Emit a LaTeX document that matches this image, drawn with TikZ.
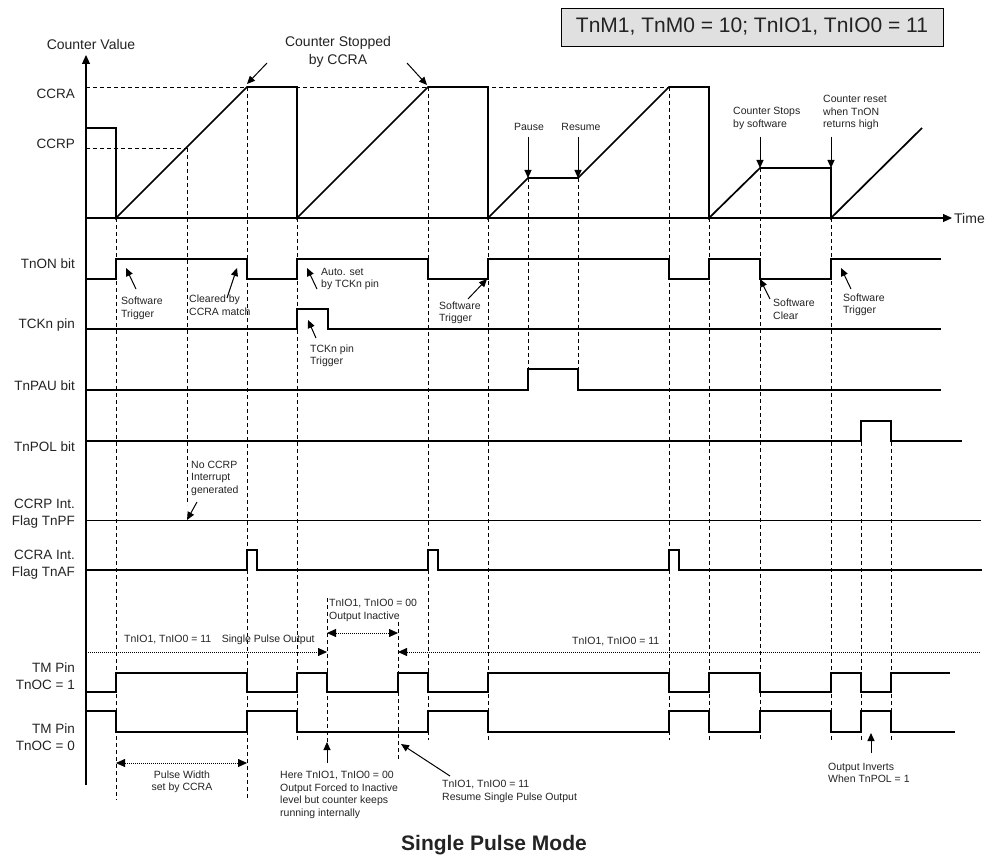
\documentclass[tikz,border=0pt]{standalone}
\usepackage{fontspec}
\setmainfont{Liberation Sans}
\usetikzlibrary{arrows.meta}
\definecolor{boxgray}{RGB}{224,224,224}
\definecolor{ink}{RGB}{35,35,35}

\begin{document}
\begin{tikzpicture}[x=1pt, y=-1pt, >={Triangle[length=9pt,width=8pt]},
  lbl/.style={anchor=east, align=right, inner sep=0pt, text=ink, font=\fontsize{13.5}{17}\selectfont},
  note/.style={anchor=west, align=left, inner sep=0pt, text=ink, font=\fontsize{10.5}{12.5}\selectfont},
  sig/.style={line width=1.7pt},
  thinsig/.style={line width=1.1pt},
  guide/.style={line width=0.7pt, dash pattern=on 4pt off 3pt},
  dotline/.style={line width=0.8pt, dash pattern=on 1pt off 1pt},
  ptr/.style={line width=1pt, -{Triangle[length=8pt,width=7pt]}}
]
\useasboundingbox (0,0) rectangle (988,856);

\node[draw, fill=boxgray, line width=0.8pt, minimum width=382pt, minimum height=38pt,
  font=\fontsize{21}{24}\selectfont, text=ink] (mode) at (752,27) {TnM1, TnM0 = 10; TnIO1, TnIO0 = 11};

\node[text=ink, inner sep=0pt, font=\fontsize{14}{17}\selectfont] (cval) at (91,44) {Counter Value};
\node[text=ink, inner sep=0pt, align=center, font=\fontsize{14}{18}\selectfont] (stopped) at (338,52) {Counter Stopped\\by CCRA};
\node[lbl] (ccra) at (75,93.5) {CCRA};
\node[lbl] (ccrp) at (75,144) {CCRP};
\node[anchor=west, inner sep=0pt, text=ink, font=\fontsize{14}{17}\selectfont] (time) at (954,218) {Time};

\node[lbl] (ton) at (75,263.5) {TnON bit};
\node[lbl] (tck) at (75,325) {TCKn pin};
\node[lbl] (tpau) at (75,386) {TnPAU bit};
\node[lbl] (tpol) at (75,447) {TnPOL bit};
\node[lbl] (tpf) at (75,514) {CCRP Int.\\Flag TnPF};
\node[lbl] (taf) at (75,564.5) {CCRA Int.\\Flag TnAF};
\node[lbl] (toc1) at (75,676) {TM Pin\\TnOC = 1};
\node[lbl] (toc0) at (75,737) {TM Pin\\TnOC = 0};

\draw[guide] (86,87) -- (669,87);
\draw[guide] (86,148) -- (187,148);
\foreach \x/\ya/\yb in {116/218/800, 187/148/505, 247/87/800, 297/218/740, 428/87/740,
  488/218/740, 528/178/369, 578/178/369, 669/87/740, 709/218/740, 760/168/740,
  831/218/740, 861/421/740, 891/421/740, 327/598/742, 398/622/760}
  \draw[guide] (\x,\ya) -- (\x,\yb);

\draw[thinsig, ->] (86,785) -- (86,55);
\draw[thinsig, ->] (86,218) -- (952,218);

\draw[sig, line join=miter] (86,128) -| (116,218) -- (247,87) -- (297,87) -- (297,218) -- (428,87)
  -- (488,87) -- (488,218) -- (528,178) -- (578,178) -- (669,87) -- (709,87) -- (709,218)
  -- (760,168) -- (831,168) -- (831,218) -- (922,128);

\draw[sig] (86,279) -| (116,259) -| (247,279) -| (297,259) -| (428,279) -| (488,259) -| (669,279)
  -| (709,259) -| (760,279) -| (831,259) -- (941,259);
\draw[thinsig] (86,329) -| (297,309) -| (328,329) -- (941,329);
\draw[thinsig] (86,390) -| (528,369) -| (578,390) -- (941,390);
\draw[thinsig] (86,441) -| (861,421) -| (891,441) -- (962,441);
\draw[line width=0.9pt] (86,520) -- (981,520);
\draw[sig] (86,570) -| (247,550) -| (257,570) -| (428,550) -| (438,570) -| (669,550) -| (679,570) -- (982,570);
\draw[sig] (86,692) -| (116,673) -| (247,692) -| (297,673) -| (327,692) -| (398,673) -| (428,692)
  -| (488,673) -| (669,692) -| (709,673) -| (760,692) -| (831,673) -| (861,692) -| (891,673) -- (950,673);
\draw[sig] (86,711) -| (116,732) -| (247,711) -| (297,732) -| (428,711) -| (488,732) -| (669,711)
  -| (709,732) -| (760,711) -| (831,732) -| (861,711) -| (891,732) -- (955,732);

\draw[ptr] (267,63) -- (247,84);
\draw[ptr] (407,63) -- (427,85);

\node[note, anchor=center] (pause) at (529,127) {Pause};
\node[note, anchor=center] (resume) at (581,127) {Resume};
\draw[ptr] (528,137) -- (528,178);
\draw[ptr] (578,137) -- (578,178);
\node[note] (cstop) at (733,118.5) {Counter Stops\\by software};
\node[note] (creset) at (823,112.5) {Counter reset\\when TnON\\returns high};
\draw[ptr] (760,137) -- (760,168);
\draw[ptr] (831,137) -- (831,168);

\node[note] (swt1) at (121,308.5) {Software\\Trigger};
\draw[ptr] (136,289) -- (126,268);
\node[note] (clr) at (189,305) {Cleared by\\CCRA match};
\draw[ptr] (227,298) -- (237,268);
\node[note] (auto) at (321,279) {Auto. set\\by TCKn pin};
\draw[ptr] (317,289) -- (307,268);
\node[note] (swt2) at (439,313) {Software\\Trigger};
\draw[ptr] (468,299) -- (487,279);
\node[note] (swc) at (773,309.5) {Software\\Clear};
\draw[ptr] (770,299) -- (760,279);
\node[note] (swt3) at (843,305) {Software\\Trigger};
\draw[ptr] (851,289) -- (841,268);
\node[note] (tcktrg) at (310,356) {TCKn pin\\Trigger};
\draw[ptr] (316,338) -- (308,320);

\node[note] (nopf) at (191,478) {No CCRP\\Interrupt\\generated};
\draw[ptr] (197,502) -- (187,520);

\node[note] (spo) at (124,640) {TnIO1, TnIO0 = 11\hspace{1em}Single Pulse Output};
\draw[dotline, ->] (86,652) -- (327,652);
\node[note] (inact) at (329,610.5) {TnIO1, TnIO0 = 00\\Output Inactive};
\draw[dotline, <->] (327,633) -- (398,633);
\node[note] (spo2) at (572,642) {TnIO1, TnIO0 = 11};
\draw[dotline, <-] (398,652) -- (980,652);

\draw[dotline, <->] (116,763) -- (247,763);
\node[note, anchor=center, align=center] (pw) at (182,782) {Pulse Width\\set by CCRA};
\draw[ptr] (327,763) -- (327,742);
\node[note] (forced) at (280,795) {Here TnIO1, TnIO0 = 00\\Output Forced to Inactive\\level but counter keeps\\running internally};
\draw[ptr] (450,776) -- (401,744);
\node[note] (resm) at (442,791.5) {TnIO1, TnIO0 = 11\\Resume Single Pulse Output};
\draw[ptr] (871,753) -- (871,733);
\node[note] (inv) at (828,773) {Output Inverts\\When TnPOL = 1};

\node[text=ink, inner sep=0pt, font=\bfseries\fontsize{21}{24}\selectfont] (title) at (494,845) {Single Pulse Mode};
\end{tikzpicture}
\end{document}
